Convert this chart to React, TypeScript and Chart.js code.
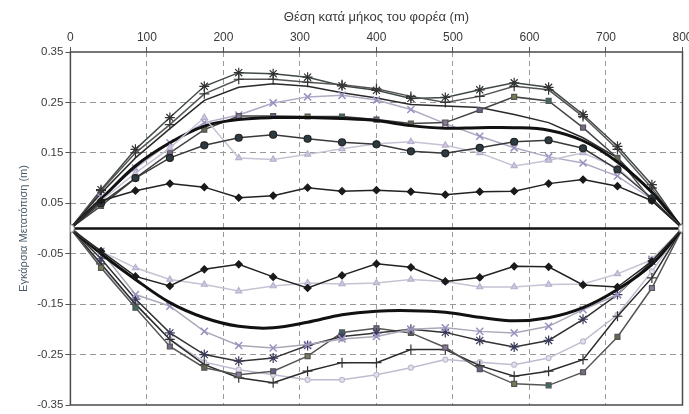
import React, { useEffect, useRef } from "react";
import { Chart, registerables } from "chart.js";
Chart.register(...registerables);

// Position along the deck (m)
const X_POS = [0, 40, 85, 130, 175, 220, 265, 310, 355, 400, 445, 490, 535, 580, 625, 670, 715, 760, 800];
const X_TICKS = [0, 100, 200, 300, 400, 500, 600, 700, 800];
const Y_TICKS = [-0.35, -0.25, -0.15, -0.05, 0.05, 0.15, 0.25, 0.35];

// Upper envelope series
const POS_ASTERISK = [0, 0.077, 0.157, 0.22, 0.282, 0.309, 0.307, 0.3, 0.283, 0.274, 0.258, 0.26, 0.275, 0.289, 0.28, 0.226, 0.163, 0.087, 0];
const POS_PLUS = [0, 0.075, 0.15, 0.206, 0.267, 0.296, 0.296, 0.29, 0.285, 0.277, 0.262, 0.25, 0.262, 0.282, 0.275, 0.222, 0.157, 0.08, 0];
const POS_THIN = [0, 0.07, 0.14, 0.198, 0.254, 0.28, 0.287, 0.282, 0.269, 0.259, 0.246, 0.243, 0.24, 0.226, 0.21, 0.18, 0.14, 0.07, 0];
const POS_LIGHTX = [0, 0.062, 0.12, 0.17, 0.21, 0.225, 0.249, 0.261, 0.264, 0.255, 0.236, 0.208, 0.183, 0.16, 0.142, 0.13, 0.104, 0.058, 0];
const POS_SQUARE = [0, 0.045, 0.1, 0.15, 0.196, 0.223, 0.223, 0.222, 0.222, 0.216, 0.208, 0.21, 0.235, 0.261, 0.253, 0.2, 0.14, 0.055, 0];
const POS_THICK = [0, 0.058, 0.124, 0.17, 0.203, 0.216, 0.22, 0.22, 0.218, 0.214, 0.204, 0.199, 0.2, 0.2, 0.195, 0.174, 0.132, 0.072, 0];
const POS_CIRCLE = [0, 0.05, 0.1, 0.14, 0.165, 0.18, 0.186, 0.178, 0.171, 0.167, 0.153, 0.149, 0.16, 0.172, 0.175, 0.159, 0.117, 0.06, 0];
const POS_TRIANGLE = [0, 0.055, 0.11, 0.16, 0.22, 0.14, 0.137, 0.147, 0.158, 0.168, 0.172, 0.165, 0.15, 0.124, 0.135, 0.15, 0.12, 0.06, 0];
const POS_DIAMOND = [0, 0.055, 0.075, 0.089, 0.082, 0.061, 0.065, 0.081, 0.074, 0.076, 0.073, 0.067, 0.073, 0.074, 0.089, 0.097, 0.084, 0.055, 0];

// Lower envelope series
const NEG_DIAMOND = [0, -0.045, -0.095, -0.114, -0.081, -0.071, -0.096, -0.118, -0.093, -0.07, -0.077, -0.105, -0.097, -0.075, -0.076, -0.112, -0.116, -0.065, 0];
const NEG_TRIANGLE = [0, -0.045, -0.078, -0.101, -0.111, -0.124, -0.114, -0.108, -0.11, -0.108, -0.101, -0.105, -0.116, -0.116, -0.111, -0.11, -0.09, -0.062, 0];
const NEG_THICK = [0, -0.05, -0.101, -0.147, -0.177, -0.194, -0.197, -0.186, -0.171, -0.164, -0.163, -0.166, -0.176, -0.183, -0.177, -0.157, -0.121, -0.071, 0];
const NEG_LIGHTX = [0, -0.045, -0.131, -0.154, -0.204, -0.232, -0.237, -0.23, -0.219, -0.214, -0.2, -0.197, -0.204, -0.207, -0.194, -0.161, -0.131, -0.061, 0];
const NEG_ASTERISK = [0, -0.06, -0.14, -0.207, -0.25, -0.263, -0.257, -0.232, -0.214, -0.207, -0.2, -0.206, -0.222, -0.235, -0.222, -0.18, -0.131, -0.065, 0];
const NEG_SQUARE = [0, -0.078, -0.157, -0.234, -0.276, -0.29, -0.283, -0.253, -0.206, -0.198, -0.207, -0.236, -0.279, -0.308, -0.311, -0.285, -0.215, -0.118, 0];
const NEG_PLUS = [0, -0.07, -0.15, -0.22, -0.27, -0.296, -0.306, -0.283, -0.266, -0.266, -0.24, -0.24, -0.272, -0.293, -0.283, -0.26, -0.174, -0.098, 0];
const NEG_LAVENDER = [0, -0.075, -0.15, -0.22, -0.265, -0.28, -0.29, -0.3, -0.3, -0.29, -0.276, -0.26, -0.265, -0.27, -0.257, -0.224, -0.171, -0.085, 0];

const ZERO = X_POS.map(() => 0);

const SQUARE_COLORS = ["#6b5b8a", "#7a7a55", "#3d6b66", "#7a6a8a", "#5e6a50", "#8a7aa0"];

const FONT = "'Liberation Sans', Arial, sans-serif";

export default function App() {
  const ref = useRef<HTMLCanvasElement>(null);

  useEffect(() => {
    document.body.style.margin = "0";
    document.body.style.overflow = "hidden";
    const canvas = ref.current;
    if (!canvas) return;

    const pts = (ys: number[]) => X_POS.map((x, i) => ({ x, y: ys[i] }));
    const sqColors = X_POS.map((_, i) => SQUARE_COLORS[i % SQUARE_COLORS.length]);
    const endRadius = X_POS.map((_, i) => (i === 0 || i === X_POS.length - 1 ? 4 : 0));

    const line = (data: number[], o: any) => ({
      data: pts(data),
      borderColor: "#3a3a3a",
      borderWidth: 1.5,
      pointRadius: 3.5,
      pointBorderWidth: 1.2,
      pointBackgroundColor: "#3a3a3a",
      pointBorderColor: "#3a3a3a",
      tension: 0,
      ...o,
    });

    const frame = {
      id: "frame",
      beforeDatasetsDraw(chart: any) {
        const { ctx, chartArea: a } = chart;
        ctx.save();
        ctx.strokeStyle = "#4a4a4a";
        ctx.lineWidth = 1.5;
        ctx.strokeRect(a.left, a.top, a.right - a.left, a.bottom - a.top);
        ctx.restore();
      },
    };

    const chart = new Chart(canvas, {
      type: "line",
      data: {
        datasets: [
          line(ZERO, { borderColor: "#111", borderWidth: 2.5, pointRadius: endRadius, pointBackgroundColor: "#fff", pointBorderColor: "#888", pointBorderWidth: 1 }),
          line(POS_DIAMOND, { pointStyle: "rectRot", pointBackgroundColor: "#1a1a1a", pointBorderColor: "#1a1a1a", borderColor: "#222" }),
          line(POS_CIRCLE, { pointStyle: "circle", pointBackgroundColor: "#2c3a42", pointBorderColor: "#222" }),
          line(POS_TRIANGLE, { pointStyle: "triangle", borderColor: "#c4c4d4", pointBackgroundColor: "#d0c8e0", pointBorderColor: "#b8b0cc" }),
          line(POS_THICK, { borderColor: "#111", borderWidth: 3, pointRadius: 0, tension: 0.35 }),
          line(POS_SQUARE, { pointStyle: "rect", pointBackgroundColor: sqColors, pointBorderColor: "#555", borderColor: "#444" }),
          line(POS_LIGHTX, { pointStyle: "crossRot", borderColor: "#b0aac4", pointBorderColor: "#9a90c0", pointRadius: 5, pointBorderWidth: 1.5 }),
          line(POS_THIN, { pointRadius: 0, borderColor: "#2a2a2a" }),
          line(POS_PLUS, { pointStyle: "cross", pointRadius: 5, borderColor: "#555", pointBorderColor: "#333" }),
          line(POS_ASTERISK, { pointStyle: "star", pointRadius: 5, borderColor: "#3f4a48", pointBorderColor: "#333" }),
          line(NEG_DIAMOND, { pointStyle: "rectRot", pointBackgroundColor: "#1a1a1a", pointBorderColor: "#1a1a1a", borderColor: "#222" }),
          line(NEG_TRIANGLE, { pointStyle: "triangle", borderColor: "#c4c4d4", pointBackgroundColor: "#d0c8e0", pointBorderColor: "#b8b0cc" }),
          line(NEG_THICK, { borderColor: "#111", borderWidth: 3, pointRadius: 0, tension: 0.35 }),
          line(NEG_LIGHTX, { pointStyle: "crossRot", borderColor: "#a8a8b8", pointBorderColor: "#9a90c0", pointRadius: 5, pointBorderWidth: 1.5 }),
          line(NEG_ASTERISK, { pointStyle: "star", pointRadius: 5, borderColor: "#333", pointBorderColor: "#3a3a5a" }),
          line(NEG_SQUARE, { pointStyle: "rect", pointBackgroundColor: sqColors, pointBorderColor: "#555", borderColor: "#555" }),
          line(NEG_PLUS, { pointStyle: "cross", pointRadius: 5, borderColor: "#2a2a2a", pointBorderColor: "#333" }),
          line(NEG_LAVENDER, { pointStyle: "circle", pointRadius: 2.5, borderColor: "#c0bcd0", pointBackgroundColor: "#e4e0ee", pointBorderColor: "#c0bcd0" }),
        ],
      },
      options: {
        animation: false,
        responsive: true,
        maintainAspectRatio: false,
        layout: { padding: { left: 17, right: 6, top: 8, bottom: 9 } },
        plugins: { legend: { display: false }, tooltip: { enabled: false } },
        scales: {
          x: {
            type: "linear",
            position: "top",
            min: 0,
            max: 800,
            afterBuildTicks: (s: any) => { s.ticks = X_TICKS.map((v) => ({ value: v })); },
            afterFit: (s: any) => { s.paddingRight = 0; },
            ticks: { color: "#3a3a3a", font: { family: FONT, size: 12 }, padding: 2, maxRotation: 0 },
            grid: {
              color: (c: any) => (c.tick && (c.tick.value === 0 || c.tick.value === 800) ? "rgba(0,0,0,0)" : "#999"),
              tickColor: "#555",
              tickLength: 5,
            },
            border: { display: false, dash: [5, 4] },
            title: { display: true, text: "Θέση κατά μήκος του φορέα (m)", color: "#3a3a3a", font: { family: FONT, size: 13 }, padding: { top: 2, bottom: 3 } },
          },
          y: {
            type: "linear",
            min: -0.35,
            max: 0.35,
            afterBuildTicks: (s: any) => { s.ticks = Y_TICKS.map((v) => ({ value: v })); },
            ticks: { color: "#3a3a3a", font: { family: FONT, size: 11.5 }, padding: 2, callback: (v: any) => Number(v).toFixed(2) },
            grid: {
              color: (c: any) => (c.tick && Math.abs(Math.abs(c.tick.value) - 0.35) < 1e-6 ? "rgba(0,0,0,0)" : "#999"),
              tickColor: "#555",
              tickLength: 5,
            },
            border: { display: false, dash: [6, 4] },
            title: { display: true, text: "Εγκάρσια Μετατόπιση (m)", color: "#4a5a6a", font: { family: FONT, size: 11 }, padding: { top: 0, bottom: 5 } },
          },
        },
      },
      plugins: [frame],
    } as any);

    return () => chart.destroy();
  }, []);

  return (
    <div style={{ position: "relative", width: 689, height: 414 }}>
      <canvas ref={ref} />
    </div>
  );
}
